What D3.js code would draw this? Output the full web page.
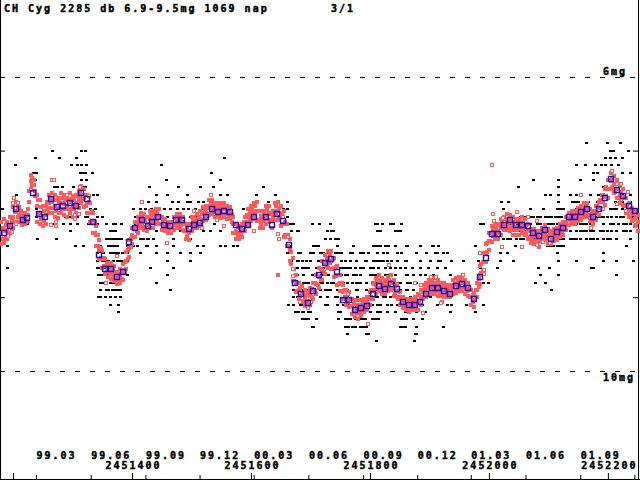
<!DOCTYPE html>
<html>
<head>
<meta charset="utf-8">
<script src="https://cdn.jsdelivr.net/npm/d3@7"></script>
<style>
body{margin:0;background:#fff;}
svg text{font-family:"DejaVu Sans Mono",monospace;font-weight:bold;font-size:10px;letter-spacing:2px;fill:#000;stroke:#000;stroke-width:0.45px;}
</style>
</head>
<body>
<svg id="chart" width="640" height="480"></svg>
<script>
// ---------------------------------------------- DATA ---------------------------------------------------
var JD0 = 2451000;   // all times below are JD - JD0
var TITLE = "CH Cyg 2285 db 6.9-9.5mg 1069 nap";
var PAGE = "3/1";

var jdTicks = [2451200,2451400,2451600,2451800,2452000,2452200];
var jdLabels = ["","2451400","2451600","2451800","2452000","2452200"];
var monthTicks = [2451238.5,2451330.5,2451422.5,2451513.5,2451604.5,2451696.5,2451788.5,2451879.5,2451969.5,2452061.5,2452153.5,2452244.5];
var monthLabels = ["99.03","99.06","99.09","99.12","00.03","00.06","00.09","00.12","01.03","01.06","01.09",""];
var magTicks = [7,9];
var magLines = [6,10];
var magLineLabels = ["6mg","10mg"];

// 10-day means (blue)
var meanData = [[185,8.13],[195,8.03],[205,7.79],[216,7.94],[224,7.92],[234,7.58],[244,7.86],[254,7.91],[264,7.66],[274,7.77],
[284,7.75],[295,7.72],[305,7.76],[315,7.58],[325,7.66],[335,7.97],[345,8.43],[355,8.62],[365,8.61],[375,8.73],
[385,8.65],[395,8.25],[405,8.05],[416,7.95],[426,8.03],[434,7.98],[444,7.91],[454,8.01],[464,8.03],[474,7.95],
[484,7.95],[495,8.07],[505,8.01],[515,7.99],[525,7.90],[535,7.79],[545,7.84],[555,7.83],[565,7.84],[575,8.01],
[585,8.07],[595,8.01],[605,7.91],[626,7.90],[636,8.02],[644,7.87],[654,7.96],[664,8.29],[674,8.81],[684,8.95],
[695,9.08],[705,8.92],[715,8.70],[725,8.54],[735,8.48],[745,8.65],[755,9.04],[765,9.04],[775,9.17],[785,9.15],
[795,9.12],[805,8.95],[816,8.85],[826,8.89],[836,8.82],[846,8.89],[856,9.07],[866,9.11],[876,9.10],[884,9.06],
[895,8.95],[905,8.88],[915,8.87],[925,8.91],[935,8.95],[945,8.85],[955,8.82],[965,8.88],[975,9.03],[985,8.72],
[995,8.47],[1005,8.14],[1016,8.14],[1026,8.01],[1036,7.95],[1046,8.01],[1056,8.02],[1066,8.03],[1074,8.13],[1084,8.17],
[1095,8.09],[1105,8.20],[1115,8.11],[1125,8.06],[1135,7.91],[1145,7.91],[1155,7.84],[1165,7.80],[1175,7.91],[1185,7.79],
[1195,7.65],[1205,7.39],[1216,7.54],[1226,7.62],[1236,7.75],[1246,7.83]];

// red filled observations, grouped by time: [t,[mags]]
var redData = [
[180,[7.97,8.12,8.27]],[185,[7.93,8.10,8.26]],[190,[7.97,8.08,8.20]],[195,[7.90,8.02,8.13]],[200,[7.77,7.90,8.05]],
[205,[7.70,7.83,7.98]],[210,[7.77,7.88,7.98]],[215,[7.87,7.95,8.02]],[220,[7.85,7.93,8.00]],[225,[7.80,7.88,7.96]],
[230,[7.33,7.42,7.52]],[235,[7.40,7.47]],[240,[7.60,7.75,7.98]],[245,[7.68,7.85,8.00]],[250,[7.75,7.90,8.03]],
[255,[7.75,7.88,8.00]],[260,[7.60,7.72,7.85]],[265,[7.58,7.70,7.85]],[270,[7.60,7.75,7.90]],[275,[7.65,7.78,7.92]],
[280,[7.58,7.72,7.85]],[285,[7.60,7.73,7.88]],[290,[7.62,7.75,7.90]],[295,[7.58,7.70,7.85]],[300,[7.62,7.75,7.90]],
[305,[7.60,7.72,7.85]],[310,[7.55,7.66,7.78]],[315,[7.48,7.60,7.72]],[320,[7.52,7.65,7.77]],[325,[7.60,7.72,7.85]],
[330,[7.72,7.85,7.98]],[335,[7.85,7.98,8.12]],[340,[8.03,8.15,8.30]],[345,[8.22,8.35,8.48]],[350,[8.37,8.48,8.60]],
[355,[8.48,8.58,8.68]],[360,[8.53,8.63,8.72]],[365,[8.53,8.63,8.75]],[370,[8.58,8.68,8.78]],[375,[8.65,8.73,8.82]],
[380,[8.62,8.70,8.80]],[385,[8.55,8.65,8.77]],[390,[8.38,8.50,8.62]],[395,[8.22,8.33,8.45]],[400,[8.05,8.15,8.27]],
[405,[7.97,8.07,8.18]],[410,[7.90,8.02,8.13]],[415,[7.85,7.95,8.06]],[420,[7.87,7.98,8.08]],[425,[7.90,8.00,8.10]],
[430,[7.83,7.93,8.05]],[435,[7.83,7.93,8.05]],[440,[7.80,7.90,8.00]],[445,[7.80,7.90,8.00]],[450,[7.90,8.00,8.08]],
[455,[7.93,8.02,8.10]],[460,[7.97,8.05,8.13]],[465,[7.97,8.05,8.13]],[470,[7.90,8.00,8.08]],[475,[7.87,7.96,8.05]],
[480,[7.87,7.96,8.05]],[485,[7.90,7.98,8.08]],[490,[8.00,8.10,8.20]],[495,[8.02,8.12,8.22]],[500,[7.90,8.00,8.10]],
[505,[7.90,7.98,8.06]],[510,[7.87,7.97,8.06]],[515,[7.83,7.93,8.03]],[520,[7.77,7.87,7.96]],[525,[7.75,7.85,7.94]],
[530,[7.68,7.78,7.88]],[535,[7.68,7.77,7.86]],[540,[7.72,7.82,7.90]],[545,[7.72,7.82,7.90]],[550,[7.72,7.82,7.92]],
[555,[7.72,7.80,7.90]],[560,[7.75,7.84,7.93]],[565,[7.77,7.85,7.93]],[570,[7.90,8.00,8.12]],[575,[8.00,8.10,8.20]],
[580,[8.03,8.12,8.20]],[585,[8.00,8.08,8.18]],[590,[7.90,8.00,8.10]],[595,[7.80,7.90,8.02]],[600,[7.75,7.85,7.96]],
[605,[7.72,7.82,7.93]],[610,[7.70,7.82,7.96]],[615,[7.83,7.95,8.06]],[620,[7.83,7.95,8.06]],[625,[7.75,7.88,8.00]],
[630,[7.75,7.86,7.97]],[635,[7.86,7.95,8.05]],[640,[7.72,7.83,7.95]],[645,[7.70,7.82,7.95]],[646,[8.70]],
[650,[7.75,7.88,8.03]],[655,[7.82,8.00,8.18]],[660,[8.00,8.15,8.30]],[665,[8.20,8.35,8.50]],[670,[8.47,8.62,8.78]],
[675,[8.70,8.82,8.93]],[680,[8.80,8.90,9.02]],[685,[8.85,8.95,9.07]],[690,[8.90,9.02,9.12]],[695,[8.93,9.05,9.15]],
[700,[8.88,8.98,9.10]],[705,[8.80,8.90,9.02]],[710,[8.70,8.82,8.95]],[715,[8.60,8.73,8.88]],[720,[8.50,8.63,8.77]],
[725,[8.43,8.55,8.68]],[730,[8.37,8.48,8.60]],[735,[8.37,8.50,8.62]],[740,[8.47,8.60,8.72]],[745,[8.58,8.70,8.83]],
[750,[8.70,8.80,8.92]],[755,[8.83,8.93,9.03]],[760,[8.90,9.00,9.10]],[765,[8.93,9.03,9.13]],[770,[9.02,9.12,9.23]],
[775,[9.04,9.16,9.27]],[780,[9.04,9.17,9.30]],[785,[9.04,9.15,9.25]],[790,[9.02,9.10,9.20]],[795,[9.00,9.08,9.17]],
[800,[8.93,9.02,9.11]],[805,[8.80,8.90,9.02]],[810,[8.74,8.84,8.95]],[815,[8.70,8.80,8.92]],[820,[8.74,8.84,8.95]],
[825,[8.77,8.86,8.95]],[830,[8.72,8.82,8.92]],[835,[8.70,8.80,8.90]],[840,[8.77,8.87,8.98]],[845,[8.82,8.92,9.00]],
[850,[8.93,9.02,9.11]],[855,[9.00,9.07,9.15]],[860,[9.02,9.10,9.17]],[865,[9.02,9.10,9.20]],[870,[9.02,9.10,9.18]],
[875,[9.00,9.08,9.17]],[880,[8.96,9.06,9.17]],[885,[8.90,9.00,9.10]],[890,[8.83,8.93,9.03]],[895,[8.80,8.90,9.00]],
[900,[8.77,8.86,8.96]],[905,[8.77,8.86,8.96]],[910,[8.74,8.84,8.96]],[915,[8.77,8.87,8.98]],[920,[8.80,8.88,8.98]],
[925,[8.80,8.90,9.00]],[930,[8.83,8.92,9.00]],[935,[8.83,8.92,9.00]],[940,[8.77,8.86,8.96]],[945,[8.74,8.84,8.94]],
[950,[8.72,8.82,8.92]],[955,[8.72,8.81,8.92]],[960,[8.77,8.86,8.96]],[965,[8.80,8.88,8.98]],[970,[8.90,9.00,9.10]],
[975,[8.94,9.04,9.14]],[980,[8.80,8.90,9.00]],[985,[8.58,8.70,8.82]],[990,[8.40,8.52,8.64]],[995,[8.28,8.40,8.52]],
[1000,[8.12,8.23,8.35]],[1005,[8.03,8.13,8.25]],[1010,[8.00,8.10,8.20]],[1015,[8.00,8.10,8.20]],[1020,[7.93,8.04,8.15]],
[1025,[7.90,8.00,8.08]],[1030,[7.87,7.97,8.08]],[1035,[7.88,7.98,8.10]],[1040,[7.91,8.02,8.15]],[1045,[7.93,8.04,8.15]],
[1050,[7.93,8.04,8.15]],[1055,[7.91,8.02,8.12]],[1060,[7.93,8.04,8.15]],[1065,[8.00,8.10,8.20]],[1070,[8.07,8.16,8.26]],
[1075,[8.07,8.17,8.28]],[1080,[8.10,8.18,8.28]],[1085,[8.10,8.20,8.32]],[1090,[8.05,8.13,8.24]],[1095,[8.02,8.12,8.22]],
[1100,[8.07,8.17,8.28]],[1105,[8.10,8.18,8.28]],[1110,[8.07,8.15,8.24]],[1115,[8.05,8.13,8.22]],[1120,[8.00,8.08,8.18]],
[1125,[7.97,8.06,8.15]],[1130,[7.90,8.00,8.08]],[1135,[7.85,7.94,8.02]],[1140,[7.83,7.92,8.00]],[1145,[7.83,7.92,8.00]],
[1150,[7.78,7.87,7.96]],[1155,[7.75,7.84,7.94]],[1160,[7.72,7.82,7.90]],[1165,[7.72,7.82,7.90]],[1170,[7.80,7.88,7.96]],
[1175,[7.83,7.92,8.00]],[1180,[7.75,7.84,7.94]],[1185,[7.70,7.78,7.88]],[1190,[7.60,7.70,7.80]],[1195,[7.53,7.63,7.74]],
[1200,[7.40,7.52,7.64]],[1205,[7.31,7.42,7.53]],[1210,[7.34,7.46,7.58]],[1215,[7.40,7.52,7.64]],[1220,[7.48,7.60,7.72]],
[1225,[7.53,7.63,7.74]],[1230,[7.65,7.75,7.85]],[1235,[7.72,7.82,7.90]],[1240,[7.78,7.87,7.96]],[1245,[7.83,7.93,8.03]],
[1250,[7.88,7.98,8.10]]];

// red filled observations between the columns above
var redDataHalf = [
[182.5,[8.05,8.20]],[187.5,[8.02,8.18]],[192.5,[8.03,8.14]],[197.5,[7.96,8.08]],[202.5,[7.84,7.98]],[207.5,[7.77,7.90]],
[212.5,[7.83,7.93]],[217.5,[7.91,7.99]],[222.5,[7.89,7.97]],[227.5,[7.55,7.70]],[232.5,[7.38,7.47]],[237.5,[7.55,7.62]],
[242.5,[7.68,7.87]],[247.5,[7.77,7.93]],[252.5,[7.82,7.96]],[257.5,[7.70,7.80]],[262.5,[7.66,7.78]],[267.5,[7.64,7.78]],
[272.5,[7.68,7.83]],[277.5,[7.70,7.85]],[282.5,[7.65,7.79]],[287.5,[7.67,7.80]],[292.5,[7.66,7.80]],[297.5,[7.66,7.80]],
[302.5,[7.67,7.80]],[307.5,[7.62,7.75]],[312.5,[7.56,7.68]],[317.5,[7.52,7.66]],[322.5,[7.60,7.75]],[327.5,[7.70,7.85]],
[332.5,[7.82,7.97]],[337.5,[7.98,8.12]],[342.5,[8.15,8.30]],[347.5,[8.33,8.47]],[352.5,[8.46,8.58]],[357.5,[8.55,8.65]],
[362.5,[8.58,8.68]],[367.5,[8.60,8.72]],[372.5,[8.65,8.76]],[377.5,[8.68,8.78]],[382.5,[8.63,8.75]],[387.5,[8.52,8.65]],
[392.5,[8.36,8.48]],[397.5,[8.20,8.32]],[402.5,[8.06,8.18]],[407.5,[7.98,8.10]],[412.5,[7.92,8.03]],[417.5,[7.91,8.02]],
[422.5,[7.94,8.04]],[427.5,[7.91,8.02]],[432.5,[7.88,7.99]],[437.5,[7.86,7.97]],[442.5,[7.85,7.95]],[447.5,[7.90,8.00]],
[452.5,[7.96,8.05]],[457.5,[8.00,8.08]],[462.5,[8.01,8.09]],[467.5,[7.98,8.06]],[472.5,[7.92,8.02]],[477.5,[7.91,8.00]],
[482.5,[7.92,8.02]],[487.5,[8.00,8.10]],[492.5,[8.06,8.16]],[497.5,[8.00,8.10]],[502.5,[7.94,8.04]],[507.5,[7.93,8.02]],
[512.5,[7.90,8.00]],[517.5,[7.85,7.95]],[522.5,[7.81,7.90]],[527.5,[7.76,7.86]],[532.5,[7.72,7.82]],[537.5,[7.75,7.84]],
[542.5,[7.77,7.86]],[547.5,[7.77,7.87]],[552.5,[7.76,7.86]],[557.5,[7.78,7.87]],[562.5,[7.80,7.89]],[567.5,[7.88,7.98]],
[572.5,[8.00,8.12]],[577.5,[8.06,8.16]],[582.5,[8.05,8.14]],[587.5,[7.98,8.08]],[592.5,[7.88,7.98]],[597.5,[7.82,7.93]],
[602.5,[7.78,7.88]],[607.5,[7.76,7.88]],[612.5,[7.82,7.95]],[617.5,[7.89,8.00]],[622.5,[7.85,7.96]],[627.5,[7.81,7.93]],
[632.5,[7.85,7.95]],[637.5,[7.82,7.92]],[642.5,[7.76,7.88]],[647.5,[7.78,7.90]],[652.5,[7.85,8.00]],[657.5,[7.98,8.15]],
[662.5,[8.15,8.30]],[667.5,[8.38,8.55]],[672.5,[8.62,8.78]],[677.5,[8.80,8.92]],[682.5,[8.87,8.98]],[687.5,[8.94,9.05]],
[692.5,[8.97,9.08]],[697.5,[8.96,9.06]],[702.5,[8.89,9.00]],[707.5,[8.80,8.92]],[712.5,[8.71,8.84]],[717.5,[8.62,8.76]],
[722.5,[8.53,8.66]],[727.5,[8.46,8.58]],[732.5,[8.42,8.54]],[737.5,[8.48,8.61]],[742.5,[8.59,8.71]],[747.5,[8.70,8.82]],
[752.5,[8.81,8.92]],[757.5,[8.90,9.00]],[762.5,[8.96,9.06]],[767.5,[9.02,9.12]],[772.5,[9.09,9.20]],[777.5,[9.10,9.22]],
[782.5,[9.10,9.22]],[787.5,[9.08,9.18]],[792.5,[9.05,9.14]],[797.5,[9.00,9.09]],[802.5,[8.90,9.00]],[807.5,[8.82,8.92]],
[812.5,[8.77,8.88]],[817.5,[8.77,8.88]],[822.5,[8.80,8.90]],[827.5,[8.80,8.89]],[832.5,[8.76,8.86]],[837.5,[8.79,8.89]],
[842.5,[8.85,8.95]],[847.5,[8.92,9.02]],[852.5,[9.00,9.09]],[857.5,[9.05,9.13]],[862.5,[9.06,9.14]],[867.5,[9.06,9.15]],
[872.5,[9.05,9.13]],[877.5,[9.02,9.12]],[882.5,[8.97,9.07]],[887.5,[8.90,9.00]],[892.5,[8.86,8.96]],[897.5,[8.82,8.92]],
[902.5,[8.81,8.91]],[907.5,[8.80,8.90]],[912.5,[8.81,8.92]],[917.5,[8.83,8.93]],[922.5,[8.85,8.94]],[927.5,[8.87,8.96]],
[932.5,[8.88,8.96]],[937.5,[8.83,8.92]],[942.5,[8.80,8.90]],[947.5,[8.78,8.88]],[952.5,[8.77,8.87]],[957.5,[8.79,8.89]],
[962.5,[8.83,8.92]],[967.5,[8.90,9.00]],[972.5,[8.97,9.07]],[977.5,[8.90,9.00]],[982.5,[8.75,8.86]],[987.5,[8.55,8.67]],
[992.5,[8.40,8.52]],[997.5,[8.26,8.38]],[1002.5,[8.13,8.24]],[1007.5,[8.07,8.17]],[1012.5,[8.05,8.15]],[1017.5,[8.02,8.12]],
[1022.5,[7.97,8.06]],[1027.5,[7.93,8.02]],[1032.5,[7.93,8.03]],[1037.5,[7.95,8.06]],[1042.5,[7.98,8.09]],[1047.5,[7.98,8.09]],
[1052.5,[7.97,8.07]],[1057.5,[7.97,8.08]],[1062.5,[8.02,8.12]],[1067.5,[8.08,8.18]],[1072.5,[8.12,8.22]],[1077.5,[8.13,8.23]],
[1082.5,[8.15,8.25]],[1087.5,[8.12,8.22]],[1092.5,[8.07,8.17]],[1097.5,[8.10,8.20]],[1102.5,[8.13,8.23]],[1107.5,[8.12,8.21]],
[1112.5,[8.10,8.18]],[1117.5,[8.06,8.15]],[1122.5,[8.03,8.12]],[1127.5,[7.97,8.05]],[1132.5,[7.92,8.01]],[1137.5,[7.88,7.96]],
[1142.5,[7.87,7.96]],[1147.5,[7.84,7.93]],[1152.5,[7.81,7.90]],[1157.5,[7.78,7.87]],[1162.5,[7.77,7.86]],[1167.5,[7.80,7.89]],
[1172.5,[7.86,7.95]],[1177.5,[7.83,7.92]],[1182.5,[7.76,7.85]],[1187.5,[7.68,7.78]],[1192.5,[7.60,7.70]],[1197.5,[7.50,7.62]],
[1202.5,[7.40,7.52]],[1207.5,[7.38,7.50]],[1212.5,[7.45,7.56]],[1217.5,[7.52,7.64]],[1222.5,[7.57,7.68]],[1227.5,[7.64,7.75]],
[1232.5,[7.74,7.84]],[1237.5,[7.80,7.89]],[1242.5,[7.85,7.95]],[1247.5,[7.90,8.02]]];

// red open squares
var redOpenData = [[202,7.65],[200,7.72],[209,7.71],[199,8.11],[192,8.17],[205,8.00],[266,7.40],[269,7.40],[230,7.54],[272,7.98],
[272,8.03],[263,8.01],[290,7.61],[304,7.88],[310,7.87],[304,7.93],[313,7.49],[328,7.62],[374,8.44],[357,8.80],
[416,7.70],[458,8.26],[505,7.83],[518,8.06],[532,7.61],[542,7.94],[555,8.03],[605,8.10],[646,8.14],[647,8.21],
[654,7.91],[663,8.18],[671,8.61],[671,8.71],[683,9.06],[695,9.15],[701,9.06],[763,8.95],[797,9.36],[832,8.56],
[876,8.80],[886,8.84],[889,9.21],[911,8.73],[903,8.72],[1005,7.20],[1007,7.86],[1009,7.96],[1023,7.92],[1047,7.84],
[1066,7.91],[1081,7.96],[1022,8.31],[1056,8.31],[985,8.40],[992,8.63],[992,8.69],[957,8.70],[921,9.06],[919,9.08],
[1155,7.61],[1172,8.06],[1192,7.79],[1216,7.46],[1222,7.46],[1234,7.56],[1231,7.83],[1207,7.28],[1080,8.29],[1091,8.25],
[1103,8.26],[1216,7.73],[1101,8.20]];

// black (visual) estimates, grouped by magnitude: [mag,[t...]]
var visualData = [
[6.9,[1164,1198,1220]],
[7.0,[265,315,321,1203,1209,1234]],
[7.1,[237,277,305,554,1195,1203,1212,1223]],
[7.2,[203,298,307,314,323,449,1147,1161,1178,1189,1195,1206,1217]],
[7.3,[233,239,312,316,321,332,532,1175,1181,1223,1237]],
[7.4,[237,268,314,323,457,548,1074,1116,1153,1175]],
[7.5,[268,273,282,300,317,321,428,478,514,536,621,1049,1116,1192]],
[7.6,[205,335,341,440,458,493,532,548,559,608,640,1094,1102,1116,1136,1147,1170,1184,1223,1237]],
[7.7,[427,441,467,478,492,497,511,520,548,553,629,643,660,1021,1032,1116,1139,1150,1167,1181,1192,1212,1223,1237]],
[7.8,[181,238,329,338,402,413,422,432,444,454,464,475,485,494,506,517,525,537,545,586,654,660,1024,1069,1091,1114,1125,1147,1164,1203,1214,1223,1237]],
[7.9,[238,268,287,296,307,321,325,341,349,405,412,430,441,458,473,485,497,509,524,537,548,570,621,654,660,1052,1069,1080,1094,1105,1122,1181,1192,1206,1220,1237,1248]],
[8.0,[223,265,284,296,307,326,332,341,356,368,371,381,405,441,469,486,506,514,537,663,668,702,733,808,820,836,853,985,1018,1030,1047,1063,1080,1108,1136,1147,1164,1203,1217,1237]],
[8.1,[296,363,368,371,408,419,441,458,481,492,520,531,548,668,678,727,738,811,847,850,1041,1058,1080,1097,1114,1136,1158,1175,1198,1214,1237]],
[8.2,[240,272,345,356,364,368,371,377,381,413,425,436,469,497,724,733,741,747,1024,1046,1069,1091,1114,1142,1164,1181,1203,1237]],
[8.3,[190,304,318,346,360,363,374,391,399,408,425,441,469,509,520,548,556,570,576,660,665,707,713,772,808,817,828,842,862,884,904,906,915,976,1044,1097,1108,1119,1231]],
[8.4,[341,352,363,371,374,383,391,413,441,458,481,497,514,663,679,682,716,727,741,749,766,783,797,811,822,845,853,895,909,929,985,1018,1030,1114,1192]],
[8.5,[341,349,357,368,377,380,391,458,497,668,679,693,716,733,752,766,777,791,811,822,828,845,859,884,901,915,917,937,957,982,1018,1041,1116,1147,1192,1214,1242]],
[8.6,[189,341,346,357,367,430,469,677,688,696,710,721,749,758,766,775,789,800,814,825,842,859,870,884,898,912,926,985,1013,1083,1101,1172,1175]],
[8.7,[346,357,363,368,391,458,677,688,702,716,761,772,783,800,814,828,862,873,884,892,906,934,1086,1116,1214]],
[8.8,[346,352,357,367,371,380,441,677,688,716,727,738,769,780,794,811,825,845,862,878,895,909,990,999,1077,1094]],
[8.9,[346,357,371,380,464,677,688,702,724,733,749,761,778,794,811,820,839,862,884,898,901,915,968,1105]],
[9.0,[343,363,371,380,677,691,699,716,741,761,778,794,811,822,833,850,867,884,901,912,915,923,968]],
[9.1,[363,376,663,671,682,696,724,755,766,777,789,803,817,828,845,867,887,912,929,937,962,990]],
[9.2,[377,674,685,699,749,775,789,817,828,859,878,892,934,976]],
[9.3,[685,696,710,761,775,789,853,873,887]],
[9.4,[705,758,769,783,853,878,923]],
[9.5,[761,794,878]],
[9.6,[810,874]]];

// more visual estimates in the crowded rows
var visualDataMore = [
[7.7,[1142,1147,1181,1186]],
[7.8,[1114,1119,1164,1170,1209]],
[7.9,[1058,1063,1074,1086,1100,1111,1116,1186,1198,1214,1226,1242]],
[8.0,[663,667,671,702,715,733,808,812,833,839,990,1013,1024,1035,1041,1052,1069,1086,1097,1102,1114,1125,1142,1153,1158,1170,1192,1209,1226,1231]],
[8.1,[668,679,727,735,817,842,846,850,1046,1052,1063,1069,1086,1091,1102,1108,1125,1130,1147,1153,1164,1170,1186,1192,1206,1226,1231]],
[8.2,[360,368,377,419,427,724,741,747,1030,1035,1052,1058,1074,1080,1097,1102,1119,1125,1136,1147,1153,1170,1175,1192,1198,1214]],
[8.3,[366,371,394,402,424,705,713,744,772,805,810,814,825,831,861,1102,1114,1125]],
[8.4,[366,371,377,385,391,413,660,679,682,699,705,721,727,741,747,752,769,783,789,828,878,912,923]],
[8.5,[354,360,368,374,382,388,677,685,699,713,727,752,758,766,794,805,810,814,819,828,836,861]],
[8.6,[343,349,354,363,368,671,685,691,713,719,733,752,756,761,783,805,825,833,850]],
[8.7,[343,349,357,363,391,674,688,721,730,752,758,777,783,805,810,814,825,842,861,873]],
[8.8,[349,354,363,371,377,679,688,692,696,710,719,735,755,761,777,783,794,811,825,839,845,850,867]],
[8.9,[360,366,374,380,671,693,716,730,744,761,777,805,822,828,833,850,861,873]],
[9.0,[346,354,363,371,380,671,679,699,716,727,744,808,825,836,842,846,850,867]],
[9.1,[663,688,693,727,744,761,772,783,789,811,836,850,861]],
[9.2,[679,685,688,696,747,783,789,800,811,842,861]],
[9.3,[688,692,696,747,758,762,766,783,788,791,803,808,814,853,857,861]],
[9.4,[702,758,763,769,775,783,789,794,850,855,859]],
[9.5,[761,797,875]]];

// ---------------------------------------------- STYLE ---------------------------------------------------
var W = 640, H = 480;
var COLOR_RED = "#ff5a5a";
var COLOR_BLUE = "#1010c4";

var svg = d3.select("#chart");
var x = d3.scaleLinear().domain([2451178, 2452254]).range([0, W]);
var y = d3.scaleLinear().domain([6, 10]).range([77.3, 370.5]);

drawFrame();
drawVisual(visualData.concat(visualDataMore));
drawRed(redData.concat(redDataHalf));
drawMeans();
drawTexts();

/** frame, dashed mag lines and axes */
function drawFrame(){
	var g = svg.append("g").attr("id","frame");

	g.append("line").attr("x1",0.5).attr("y1",0).attr("x2",0.5).attr("y2",H).attr("stroke","#000");
	g.append("line").attr("x1",638.5).attr("y1",0).attr("x2",638.5).attr("y2",H).attr("stroke","#000");
	g.append("line").attr("x1",0).attr("y1",479.5).attr("x2",W).attr("y2",479.5).attr("stroke","#000");

	// dashed 6mg / 10mg lines
	g.selectAll(".magline").data(magLines).enter()
		.append("line")
		.attr("class","magline")
		.attr("x1",0).attr("x2",W)
		.attr("y1",function(d){return Math.round(y(d))+0.5;})
		.attr("y2",function(d){return Math.round(y(d))+0.5;})
		.attr("stroke","#000")
		.attr("stroke-dasharray","5,10");

	// mag ticks both sides
	var left = g.append("g").call(d3.axisRight(y).tickValues(magTicks).tickSize(5).tickFormat(""));
	var right = g.append("g").attr("transform","translate(638,0)")
		.call(d3.axisLeft(y).tickValues(magTicks).tickSize(5).tickFormat(""));
	left.select(".domain").remove();
	right.select(".domain").remove();

	// JD ticks + labels
	var gJd = g.append("g").attr("transform","translate(0,479)")
		.call(d3.axisTop(x).tickValues(jdTicks).tickSize(6).tickPadding(4)
			.tickFormat(function(d,i){return jdLabels[i];}));
	gJd.select(".domain").remove();
	gJd.selectAll("text").attr("dx","1px");

	// month ticks + labels
	var gMon = g.append("g").attr("transform","translate(0,479)")
		.call(d3.axisTop(x).tickValues(monthTicks).tickSize(4).tickPadding(16)
			.tickFormat(function(d,i){return monthLabels[i];}));
	gMon.select(".domain").remove();
	gMon.attr("text-anchor","start");
}

function drawVisual(rows){
	var pts = [];
	rows.forEach(function(r){
		r[1].forEach(function(t){ pts.push([JD0+t, r[0]]); });
	});
	svg.append("g").attr("id","visual")
		.selectAll("rect").data(pts).enter()
		.append("rect")
		.attr("x",function(d){return Math.round(x(d[0]))-1;})
		.attr("y",function(d){return Math.round(y(d[1]))-1;})
		.attr("width",3).attr("height",2)
		.attr("fill","#000");
}

function drawRed(cols){
	var pts = [];
	cols.forEach(function(c){
		c[1].forEach(function(m){ pts.push([JD0+c[0], m]); });
	});
	svg.append("g").attr("id","red")
		.selectAll("rect").data(pts).enter()
		.append("rect")
		.attr("x",function(d){return Math.round(x(d[0]))-2;})
		.attr("y",function(d){return Math.round(y(d[1]))-2;})
		.attr("width",4).attr("height",4)
		.attr("fill",COLOR_RED);

	svg.append("g").attr("id","redOpen")
		.selectAll("rect").data(redOpenData).enter()
		.append("rect")
		.attr("x",function(d){return Math.round(x(JD0+d[0]))-1.5;})
		.attr("y",function(d){return Math.round(y(d[1]))-1.5;})
		.attr("width",3).attr("height",3)
		.attr("fill","#fff")
		.attr("stroke",COLOR_RED)
		.attr("stroke-width",1);
}

function drawMeans(){
	svg.append("g").attr("id","means")
		.selectAll("rect").data(meanData).enter()
		.append("rect")
		.attr("x",function(d){return Math.round(x(JD0+d[0]))-2.5;})
		.attr("y",function(d){return Math.round(y(d[1]))-2.5;})
		.attr("width",5).attr("height",5)
		.attr("fill","none")
		.attr("stroke",COLOR_BLUE)
		.attr("stroke-width",1.4);
}

function drawTexts(){
	svg.append("text").text(TITLE).attr("x",4).attr("y",12);
	svg.append("text").text(PAGE).attr("x",331).attr("y",12);

	svg.selectAll(".maglabel").data(magLines).enter()
		.append("text")
		.attr("class","maglabel")
		.text(function(d,i){return magLineLabels[i];})
		.attr("x",603)
		.attr("y",function(d,i){return i==0 ? y(d)-2.5 : y(d)+10;});
}
</script>
</body>
</html>
